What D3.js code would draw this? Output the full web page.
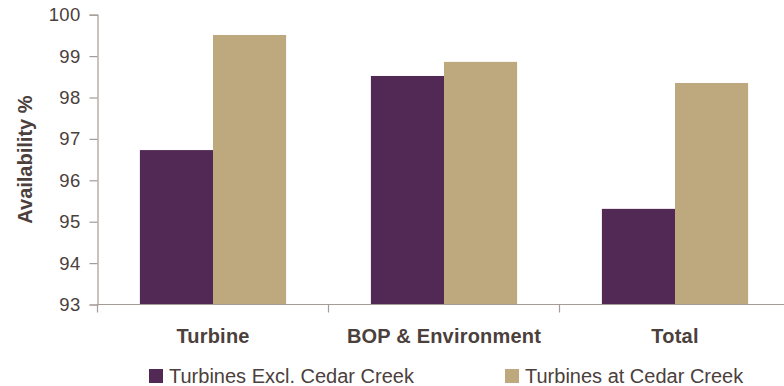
<!DOCTYPE html>
<html>
<head>
<meta charset="utf-8">
<script src="https://cdn.jsdelivr.net/npm/d3@7"></script>
<style>
  html, body { margin: 0; padding: 0; background: #fff; }
  svg { display: block; font-family: "Liberation Sans", Arial, sans-serif; }
</style>
</head>
<body>
<svg id="chart" width="784" height="386"></svg>
<script>
// Availability by category for the two turbine groups
const categories = ["Turbine", "BOP & Environment", "Total"];
const seriesNames = ["Turbines Excl. Cedar Creek", "Turbines at Cedar Creek"];
const exclCedarCreek = [96.73, 98.52, 95.31];
const atCedarCreek = [99.51, 98.86, 98.35];
const yTicks = [93, 94, 95, 96, 97, 98, 99, 100];
const colors = ["#522854", "#bea87e"];

const textColor = "#4b403c";
const axisColor = "#a69c97";

const svg = d3.select("#chart");

const x = d3.scaleBand().domain(categories).range([97.5, 790.5]).paddingInner(0).paddingOuter(0);
const xInner = d3.scaleBand().domain(seriesNames).range([0, x.bandwidth()]).paddingInner(0).paddingOuter(0.58);
const y = d3.scaleLinear().domain([93, 100]).range([304.5, 14.7]);

const rows = categories.map((c, i) => ({
  category: c,
  values: [
    { series: seriesNames[0], value: exclCedarCreek[i], color: colors[0] },
    { series: seriesNames[1], value: atCedarCreek[i], color: colors[1] }
  ]
}));

// bars
svg.append("g")
  .selectAll("g")
  .data(rows)
  .join("g")
  .attr("transform", d => `translate(${x(d.category)},0)`)
  .selectAll("rect")
  .data(d => d.values)
  .join("rect")
  .attr("x", d => xInner(d.series))
  .attr("width", xInner.bandwidth())
  .attr("y", d => y(d.value))
  .attr("height", d => y(93) - y(d.value))
  .attr("fill", d => d.color);

// y axis
const yAxis = svg.append("g")
  .attr("transform", "translate(97.5,0)")
  .call(d3.axisLeft(y).tickValues(yTicks).tickFormat(d3.format("d")).tickSize(8).tickPadding(9));
yAxis.select(".domain").attr("stroke", axisColor).attr("stroke-width", 1.2);
yAxis.selectAll(".tick line").attr("stroke", axisColor).attr("stroke-width", 1.2);
yAxis.selectAll(".tick text")
  .attr("fill", textColor)
  .style("font-size", "18.5px")
  .style("letter-spacing", "0.3px");

// x axis
const xAxis = svg.append("g")
  .attr("transform", "translate(0,304.5)")
  .call(d3.axisBottom(x).tickSize(0).tickFormat(""));
xAxis.select(".domain").remove();
xAxis.append("line")
  .attr("x1", 97.5).attr("x2", 790.5)
  .attr("stroke", axisColor).attr("stroke-width", 1.2);
xAxis.selectAll(".boundary")
  .data(categories.map(c => x(c)).concat([x.range()[1]]))
  .join("line")
  .attr("class", "boundary")
  .attr("x1", d => d).attr("x2", d => d)
  .attr("y1", 0).attr("y2", 8)
  .attr("stroke", axisColor).attr("stroke-width", 1.2);

// category labels
svg.append("g")
  .selectAll("text")
  .data(categories)
  .join("text")
  .attr("x", d => x(d) + x.bandwidth() / 2)
  .attr("y", 343)
  .attr("text-anchor", "middle")
  .attr("fill", textColor)
  .style("font-size", "20px")
  .style("font-weight", "bold")
  .style("letter-spacing", "0.2px")
  .text(d => d);

// y axis title
svg.append("text")
  .attr("transform", `translate(32,${(y(93) + y(100)) / 2}) rotate(-90)`)
  .attr("text-anchor", "middle")
  .attr("fill", textColor)
  .style("font-size", "20px")
  .style("font-weight", "bold")
  .text("Availability %");

// legend
const legendX = [149, 505];
const legend = svg.append("g")
  .selectAll("g")
  .data(seriesNames)
  .join("g")
  .attr("transform", (d, i) => `translate(${legendX[i]},369)`);
legend.append("rect")
  .attr("width", 14).attr("height", 14)
  .attr("fill", (d, i) => colors[i]);
legend.append("text")
  .attr("x", 20)
  .attr("y", 13.5)
  .attr("fill", textColor)
  .style("font-size", "20px")
  .text(d => d);
</script>
</body>
</html>
